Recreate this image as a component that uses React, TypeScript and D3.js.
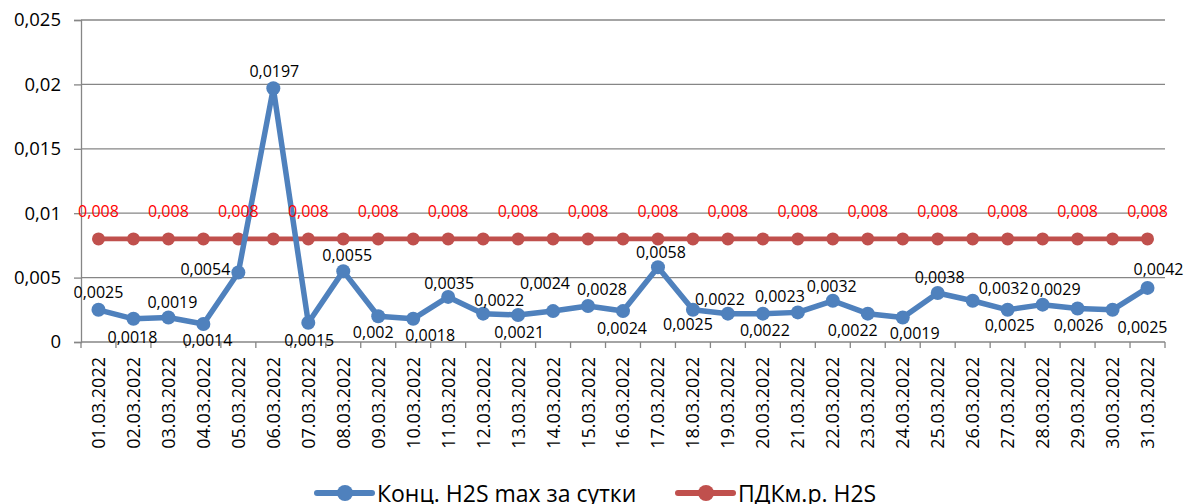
import React, { useEffect, useRef } from 'react';
import * as d3 from 'd3';

// data (March 2022, H2S)
const dates = [
  '01.03.2022', '02.03.2022', '03.03.2022', '04.03.2022', '05.03.2022', '06.03.2022', '07.03.2022', '08.03.2022',
  '09.03.2022', '10.03.2022', '11.03.2022', '12.03.2022', '13.03.2022', '14.03.2022', '15.03.2022', '16.03.2022',
  '17.03.2022', '18.03.2022', '19.03.2022', '20.03.2022', '21.03.2022', '22.03.2022', '23.03.2022', '24.03.2022',
  '25.03.2022', '26.03.2022', '27.03.2022', '28.03.2022', '29.03.2022', '30.03.2022', '31.03.2022',
];

const concMax = [
  0.0025, 0.0018, 0.0019, 0.0014, 0.0054, 0.0197, 0.0015, 0.0055,
  0.002, 0.0018, 0.0035, 0.0022, 0.0021, 0.0024, 0.0028, 0.0024,
  0.0058, 0.0025, 0.0022, 0.0022, 0.0023, 0.0032, 0.0022, 0.0019,
  0.0038, 0.0032, 0.0025, 0.0029, 0.0026, 0.0025, 0.0042,
];

const pdk = dates.map(() => 0.008);

const yTicks = [0, 0.005, 0.01, 0.015, 0.02, 0.025];

const seriesNames = ['Конц. H2S max за сутки', 'ПДКм.р. H2S'];

// where each blue data label sits relative to its point (dx, dy)
const blueLabelOffsets: [number, number][] = [
  [0, -18], [-1, 18], [4, -16], [4, 16], [-33, -3], [1, -17], [1, 17], [4, -16],
  [-5, 16], [17, 16], [1, -14], [16, -14], [1, 17], [-8, -28], [14, -17], [-1, 17],
  [3, -15], [-5, 14], [-8, -15], [2, 16], [-18, -16], [-1, -15], [-15, 16], [12, 15],
  [2, -16], [31, -13], [2, 15], [13, -16], [1, 16], [30, 17], [11, -19],
];

const BLUE = '#4F81BD';
const RED = '#C0504D';
const GRID = '#868686';
const FONT = '"Open Sans", "DejaVu Sans", sans-serif';

const fmt = (v: number) => String(+v.toFixed(4)).replace('.', ',');

export default function App() {
  const svgRef = useRef<SVGSVGElement>(null);

  useEffect(() => {
    if (!svgRef.current) return;
    const W = 1186, H = 504;
    const left = 81, right = 1165, top = 20, bottom = 342;

    d3.select(svgRef.current).selectAll('*').remove();
    const svg = d3.select(svgRef.current).attr('width', W).attr('height', H);

    const x = d3.scaleBand<string>().domain(dates).range([left, right]).padding(0);
    const cx = (d: string) => x(d)! + x.bandwidth() / 2;
    const y = d3.scaleLinear().domain([0, 0.025]).range([bottom, top]);

    // gridlines
    svg.append('g')
      .selectAll('line')
      .data(yTicks.filter(t => t > 0))
      .enter()
      .append('line')
      .attr('x1', left).attr('x2', right)
      .attr('y1', d => y(d)).attr('y2', d => y(d))
      .attr('stroke', GRID).attr('stroke-width', 1.3);

    // y axis
    const yAxis = svg.append('g')
      .attr('transform', `translate(${left},0)`)
      .call(d3.axisLeft(y).tickValues(yTicks).tickSize(7).tickPadding(13).tickFormat(d => fmt(+d)));
    yAxis.select('.domain').attr('stroke', GRID).attr('stroke-width', 1.3);
    yAxis.selectAll('.tick line').attr('stroke', GRID).attr('stroke-width', 1.3);
    yAxis.selectAll('.tick text')
      .attr('fill', '#000')
      .style('font-family', FONT)
      .style('font-size', '18.5px');

    // x axis with ticks at the band edges
    svg.append('line')
      .attr('x1', left).attr('x2', right)
      .attr('y1', bottom).attr('y2', bottom)
      .attr('stroke', GRID).attr('stroke-width', 1.3);
    const edges = [...dates.map(d => x(d)!), right];
    svg.append('g')
      .selectAll('line')
      .data(edges)
      .enter()
      .append('line')
      .attr('x1', d => d).attr('x2', d => d)
      .attr('y1', bottom).attr('y2', bottom + 6)
      .attr('stroke', GRID).attr('stroke-width', 1.3);

    svg.append('g')
      .selectAll('text')
      .data(dates)
      .enter()
      .append('text')
      .attr('transform', d => `translate(${cx(d)},${bottom + 15}) rotate(-90)`)
      .attr('text-anchor', 'end')
      .attr('dy', '0.36em')
      .style('font-family', FONT)
      .style('font-size', '18px')
      .attr('fill', '#000')
      .text(d => d);

    const line = d3.line<number>().x((_, i) => cx(dates[i])).y(d => y(d));

    // ПДК series
    svg.append('path')
      .datum(pdk)
      .attr('fill', 'none')
      .attr('stroke', RED)
      .attr('stroke-width', 4.8)
      .attr('d', line);
    svg.append('g')
      .selectAll('circle')
      .data(pdk)
      .enter()
      .append('circle')
      .attr('cx', (_, i) => cx(dates[i]))
      .attr('cy', d => y(d))
      .attr('r', 6.5)
      .attr('fill', RED);

    // concentration series
    svg.append('path')
      .datum(concMax)
      .attr('fill', 'none')
      .attr('stroke', BLUE)
      .attr('stroke-width', 5.5)
      .attr('stroke-linejoin', 'round')
      .attr('d', line);
    svg.append('g')
      .selectAll('circle')
      .data(concMax)
      .enter()
      .append('circle')
      .attr('cx', (_, i) => cx(dates[i]))
      .attr('cy', d => y(d))
      .attr('r', 7)
      .attr('fill', BLUE);

    // data labels
    svg.append('g')
      .selectAll('text')
      .data(pdk.map((v, i) => ({ v, i })).filter(d => d.i % 2 === 0))
      .enter()
      .append('text')
      .attr('x', d => cx(dates[d.i]))
      .attr('y', d => y(d.v) - 28)
      .attr('text-anchor', 'middle')
      .attr('dominant-baseline', 'central')
      .style('font-family', FONT)
      .style('font-size', '16px')
      .attr('fill', '#FF0000')
      .text(d => fmt(d.v));

    svg.append('g')
      .selectAll('text')
      .data(concMax)
      .enter()
      .append('text')
      .attr('x', (_, i) => cx(dates[i]) + blueLabelOffsets[i][0])
      .attr('y', (d, i) => y(d) + blueLabelOffsets[i][1])
      .attr('text-anchor', 'middle')
      .attr('dominant-baseline', 'central')
      .style('font-family', FONT)
      .style('font-size', '16px')
      .attr('fill', '#000')
      .text(d => fmt(d));

    // legend
    const legY = 493;
    const legend = [
      { name: seriesNames[0], color: BLUE, x0: 317 },
      { name: seriesNames[1], color: RED, x0: 678 },
    ];
    legend.forEach(l => {
      svg.append('line')
        .attr('x1', l.x0).attr('x2', l.x0 + 55)
        .attr('y1', legY).attr('y2', legY)
        .attr('stroke', l.color).attr('stroke-width', 6)
        .attr('stroke-linecap', 'round');
      svg.append('circle')
        .attr('cx', l.x0 + 28).attr('cy', legY).attr('r', 8)
        .attr('fill', l.color);
      svg.append('text')
        .attr('x', l.x0 + 60).attr('y', legY)
        .attr('dominant-baseline', 'central')
        .style('font-family', FONT)
        .style('font-size', '23px')
        .attr('fill', '#000')
        .text(l.name);
    });
  }, []);

  return (
    <svg ref={svgRef} style={{ position: 'absolute', left: 0, top: 0, display: 'block', background: '#fff' }} />
  );
}
